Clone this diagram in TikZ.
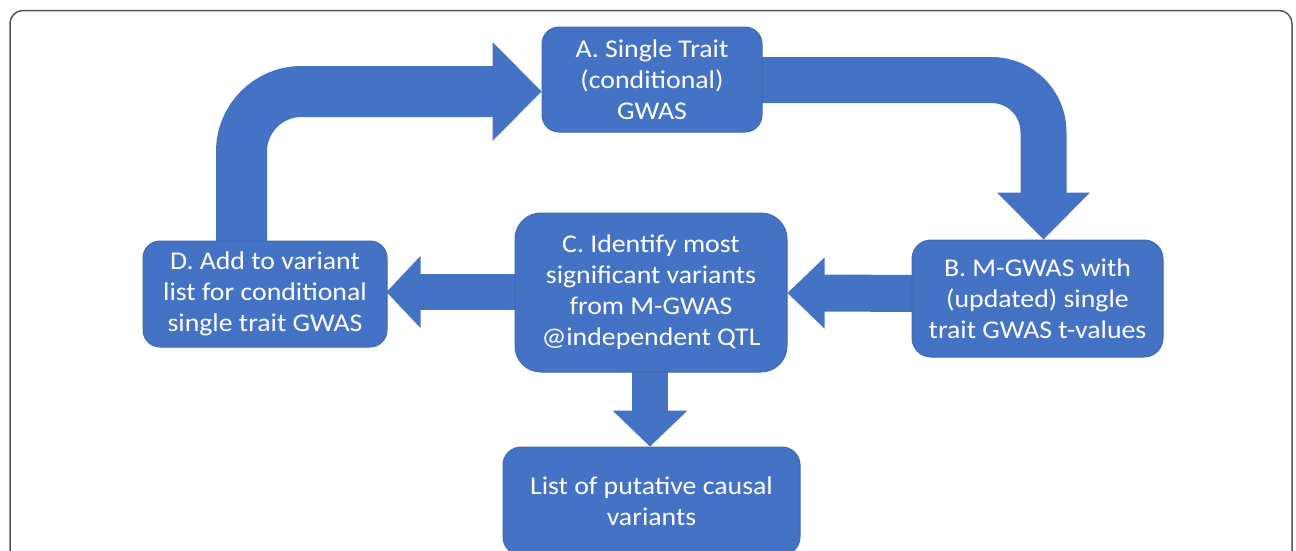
\documentclass[tikz,border=0pt]{standalone}
\usepackage{fontspec}
\setmainfont{Carlito}[FakeStretch=1.09]
\usetikzlibrary{calc,backgrounds}
\definecolor{officeblue}{HTML}{4472C4}
\definecolor{boxedge}{HTML}{3F69B6}
\definecolor{framegray}{HTML}{555555}
\tikzset{
  box/.style={fill=officeblue, draw=boxedge, line width=1pt, text=white,
    align=center, inner sep=0pt,
    font=\fontsize{25.5}{31}\selectfont},
  shaft/.style={draw=officeblue, line cap=butt, line join=round},
  head/.style={fill=officeblue}
}
\begin{document}
\begin{tikzpicture}[x=1pt,y=-1pt]
\clip (0,0) rectangle (1296,550);

% boxes
\node[box, minimum width=220pt, minimum height=105pt, rounded corners=17pt] (A) at (652,79.5) {A. Single Trait\\(conditional)\\GWAS};
\node[box, minimum width=251pt, minimum height=117pt, rounded corners=19pt] (B) at (1037.5,298.5) {B. M-GWAS with\\(updated) single\\trait GWAS t-values};
\node[box, minimum width=272pt, minimum height=159pt, rounded corners=26pt] (C) at (651,292.5) {C. Identify most\\significant variants\\from M-GWAS\\@independent QTL};
\node[box, minimum width=244pt, minimum height=106pt, rounded corners=17pt] (D) at (265,294) {D. Add to variant\\list for conditional\\single trait GWAS};
\node[box, minimum width=297pt, minimum height=108pt, rounded corners=18pt] (E) at (651.5,501) {List of putative causal\\variants};

\begin{scope}[on background layer]
  \fill[white] (0,0) rectangle (1296,550);
  % outer frame
  \draw[framegray, line width=1.5pt, rounded corners=13pt] (10,10.5) rectangle (1292,620);

  % D -> A
  \draw[shaft, line width=51pt, rounded corners=60pt]
    ($(D.north)+(-23.5,20)$) |- ($(A.west)+(-47,12)$);
  \coordinate (tA) at ($(A.west)+(0,12)$);
  \fill[head] (tA) -- ($(tA)+(-49,-49.5)$) -- ($(tA)+(-49,49.5)$) -- cycle;

  % A -> B
  \draw[shaft, line width=46pt, rounded corners=52pt]
    ($(A.east)+(-10,0.5)$) -| ($(B.north)+(6,-46)$);
  \coordinate (tB) at ($(B.north)+(6,0)$);
  \fill[head] (tB) -- ($(tB)+(-46.5,-47)$) -- ($(tB)+(46.5,-47)$) -- cycle;

  % B -> C
  \draw[shaft, line width=37pt]
    ($(B.west)+(10,-5)$) -- ($(C.east)+(36,0.5)$);
  \coordinate (tC) at ($(C.east)+(0,0.5)$);
  \fill[head] (tC) -- ($(tC)+(37,-35.5)$) -- ($(tC)+(37,35.5)$) -- cycle;

  % C -> D
  \draw[shaft, line width=36pt]
    ($(C.west)+(10,-0.5)$) -- ($(D.east)+(32,-2)$);
  \coordinate (tD) at ($(D.east)+(-1,-2)$);
  \fill[head] (tD) -- ($(tD)+(34,-36)$) -- ($(tD)+(34,36)$) -- cycle;

  % C -> E
  \draw[shaft, line width=36pt]
    ($(C.south)+(-1,-10)$) -- ($(E.north)+(-1.5,-35)$);
  \coordinate (tE) at ($(E.north)+(-1.5,0)$);
  \fill[head] (tE) -- ($(tE)+(-37.5,-36)$) -- ($(tE)+(37.5,-36)$) -- cycle;
\end{scope}
\end{tikzpicture}
\end{document}
